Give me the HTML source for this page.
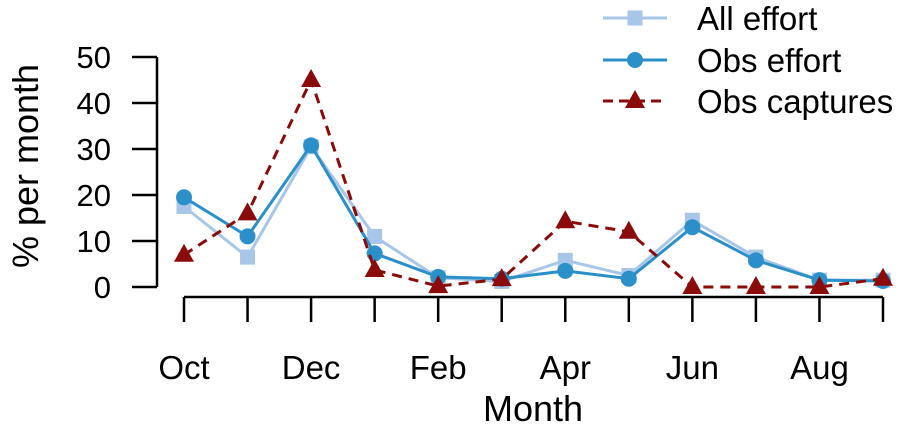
<!DOCTYPE html>
<html><head><meta charset="utf-8"><style>
body{margin:0;background:#fff}
svg{display:block;font-family:"Liberation Sans",Arial,sans-serif}
</style></head><body>
<svg id="chart" width="905" height="433" viewBox="0 0 905 433"></svg>
<script>
const months=["Oct","Nov","Dec","Jan","Feb","Mar","Apr","May","Jun","Jul","Aug","Sep"];
const tickLabels=["Oct","","Dec","","Feb","","Apr","","Jun","","Aug",""];
const yTicks=[0,10,20,30,40,50];
const allEffort=[17.5,6.5,30.5,11,2,1.2,5.8,2.5,14.5,6.5,1.5,1.5];
const obsEffort=[19.5,11,30.8,7.3,2.2,1.8,3.5,1.8,13,5.8,1.5,1.3];
const obsCaptures=[7,16,45,3.7,0.2,1.7,14.3,12,0,0,0,1.8];
const svg=document.getElementById('chart');
const NS="http://www.w3.org/2000/svg";
function x(i){return 184+i*(883-184)/11;}
function y(v){return 287-v*4.6;}
function mk(t,a,p){const e=document.createElementNS(NS,t);for(const k in a)e.setAttribute(k,a[k]);(p||svg).appendChild(e);return e;}
let ax=mk('g',{});


mk('line',{x1:157,x2:157,y1:y(50),y2:y(0),stroke:'#000','stroke-width':2.5},ax);
yTicks.forEach(v=>{
 mk('line',{x1:132,x2:157,y1:y(v),y2:y(v),stroke:'#000','stroke-width':2.5},ax);
 const t=mk('text',{x:111,y:y(v)+11,'text-anchor':'end','font-size':31},ax);t.textContent=v;
 
 
});
let xa=mk('g',{});


mk('line',{x1:x(0),x2:x(11),y1:297,y2:297,stroke:'#000','stroke-width':2.5},xa);
months.forEach((m,i)=>{
 mk('line',{x1:x(i),x2:x(i),y1:297,y2:322,stroke:'#000','stroke-width':2.5},xa);
 if(tickLabels[i]){const t=mk('text',{x:x(i),y:379,'text-anchor':'middle','font-size':33},xa);t.textContent=tickLabels[i];
 
 }
});
let xt=mk('text',{x:533,y:421,'text-anchor':'middle','font-size':36});xt.textContent='Month';


let yt=mk('text',{x:0,y:0,'text-anchor':'middle','font-size':36,transform:'translate(38,166) rotate(-90)'});yt.textContent='% per month';


function marker(g,type,cx,cy,col){
 if(type==='sq')return mk('rect',{x:cx-7.5,y:cy-7.5,width:15,height:15,fill:col},g);
 if(type==='ci')return mk('circle',{cx:cx,cy:cy,r:8,fill:col},g);
 return mk('polygon',{points:`${cx},${cy-11} ${cx-10},${cy+7} ${cx+10},${cy+7}`,fill:col},g);
}
function series(data,col,type,dash,name){
 const g=mk('g',{});
 
 
 mk('polyline',{points:data.map((v,i)=>x(i)+','+y(v)).join(' '),fill:'none',stroke:col,'stroke-width':3,'stroke-dasharray':dash||'none'},g);
 data.forEach((v,i)=>{const m=marker(g,type,x(i),y(v),col);
 
 });
}
series(allEffort,'#a8c6e8','sq','','all-effort-series');
series(obsEffort,'#2b8fc9','ci','','obs-effort-series');
series(obsCaptures,'#8b0a0a','tr','10,7','obs-captures-series');
const leg=[["All effort",'#a8c6e8','sq',18,''],["Obs effort",'#2b8fc9','ci',60,''],["Obs captures",'#8b0a0a','tr',101,'10,6']];
leg.forEach(l=>{
 const g=mk('g',{});
 
 
 mk('line',{x1:603,x2:667,y1:l[3],y2:l[3],stroke:l[1],'stroke-width':3,'stroke-dasharray':l[4]||'none'},g);
 marker(g,l[2],635,l[3],l[1]);
 const t=mk('text',{x:697,y:l[3]+12,'font-size':33},g);t.textContent=l[0];
});
</script>
</body></html>
